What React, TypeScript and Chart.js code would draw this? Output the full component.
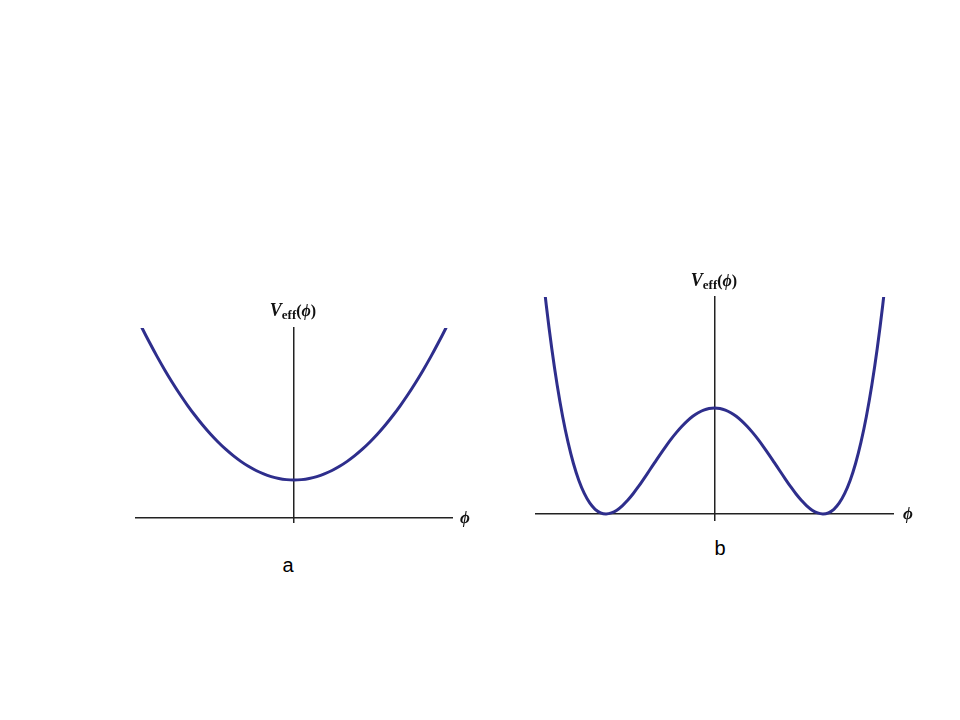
import React, { useEffect, useRef } from "react";
import { Chart, registerables } from "chart.js";

Chart.register(...registerables);

// Panel a: single-well potential
const phiA = [-1.1, -1.05, -1.0, -0.95, -0.9, -0.85, -0.8, -0.75, -0.7, -0.65, -0.6, -0.55, -0.5, -0.45, -0.4, -0.35, -0.3, -0.25, -0.2, -0.15, -0.1, -0.05, 0, 0.05, 0.1, 0.15, 0.2, 0.25, 0.3, 0.35, 0.4, 0.45, 0.5, 0.55, 0.6, 0.65, 0.7, 0.75, 0.8, 0.85, 0.9, 0.95, 1.0, 1.05, 1.1];
const vA = [1.168, 1.082, 1.0, 0.922, 0.848, 0.778, 0.712, 0.65, 0.592, 0.538, 0.488, 0.442, 0.4, 0.362, 0.328, 0.298, 0.272, 0.25, 0.232, 0.218, 0.208, 0.202, 0.2, 0.202, 0.208, 0.218, 0.232, 0.25, 0.272, 0.298, 0.328, 0.362, 0.4, 0.442, 0.488, 0.538, 0.592, 0.65, 0.712, 0.778, 0.848, 0.922, 1.0, 1.082, 1.168];

// Panel b: double-well potential
const phiB = [-1.7, -1.65, -1.6, -1.55, -1.5, -1.45, -1.4, -1.35, -1.3, -1.25, -1.2, -1.15, -1.1, -1.05, -1.0, -0.95, -0.9, -0.85, -0.8, -0.75, -0.7, -0.65, -0.6, -0.55, -0.5, -0.45, -0.4, -0.35, -0.3, -0.25, -0.2, -0.15, -0.1, -0.05, 0, 0.05, 0.1, 0.15, 0.2, 0.25, 0.3, 0.35, 0.4, 0.45, 0.5, 0.55, 0.6, 0.65, 0.7, 0.75, 0.8, 0.85, 0.9, 0.95, 1.0, 1.05, 1.1, 1.15, 1.2, 1.25, 1.3, 1.35, 1.4, 1.45, 1.5, 1.55, 1.6, 1.65, 1.7];
const vB = [3.61, 2.967, 2.434, 1.967, 1.563, 1.216, 0.922, 0.677, 0.476, 0.316, 0.194, 0.104, 0.044, 0.011, 0, 0.01, 0.036, 0.077, 0.13, 0.191, 0.26, 0.334, 0.41, 0.487, 0.563, 0.636, 0.706, 0.77, 0.828, 0.879, 0.922, 0.955, 0.98, 0.995, 1.0, 0.995, 0.98, 0.955, 0.922, 0.879, 0.828, 0.77, 0.706, 0.636, 0.563, 0.487, 0.41, 0.334, 0.26, 0.191, 0.13, 0.077, 0.036, 0.01, 0, 0.011, 0.044, 0.104, 0.194, 0.316, 0.476, 0.677, 0.922, 1.216, 1.563, 1.967, 2.434, 2.967, 3.61];

const panelLabels = ["a", "b"];
const axisName = "ϕ";

const CURVE = "rgb(46,46,140)";

type PanelProps = {
  xs: number[];
  ys: number[];
  xMin: number;
  xMax: number;
  yMin: number;
  yMax: number;
  left: number;
  top: number;
  width: number;
  height: number;
};

function Panel(p: PanelProps) {
  const ref = useRef<HTMLCanvasElement | null>(null);
  useEffect(() => {
    if (!ref.current) return;
    const chart = new Chart(ref.current, {
      type: "line",
      data: {
        datasets: [
          {
            data: p.xs.map((x, i) => ({ x, y: p.ys[i] })),
            borderColor: CURVE,
            borderWidth: 3,
            pointRadius: 0,
            tension: 0.4,
            fill: false,
          },
        ],
      },
      options: {
        responsive: false,
        animation: false,
        layout: { padding: 10 },
        plugins: { legend: { display: false }, tooltip: { enabled: false }, title: { display: false } },
        scales: {
          x: {
            type: "linear",
            min: p.xMin,
            max: p.xMax,
            position: { y: 0 },
            grid: { display: false, drawTicks: false },
            ticks: { display: false },
            border: { display: true, color: "#222", width: 1.5 },
          },
          y: {
            type: "linear",
            min: p.yMin,
            max: p.yMax,
            position: { x: 0 },
            grid: { display: false, drawTicks: false },
            ticks: { display: false },
            border: { display: true, color: "#222", width: 1.5 },
          },
        },
      },
    });
    return () => chart.destroy();
  }, []);
  return (
    <canvas
      ref={ref}
      width={p.width}
      height={p.height}
      style={{ position: "absolute", left: p.left, top: p.top, width: p.width, height: p.height }}
    />
  );
}

const serif = "'Liberation Serif', 'DejaVu Serif', serif";

function VLabel({ cx, cy }: { cx: number; cy: number }) {
  return (
    <div
      style={{
        position: "absolute",
        left: cx - 60,
        top: cy - 12,
        width: 120,
        textAlign: "center",
        fontFamily: serif,
        fontWeight: "bold",
        fontSize: 18,
        lineHeight: "22px",
        color: "#111",
      }}
    >
      <i>V</i>
      <span style={{ fontSize: 13, position: "relative", top: 3 }}>eff</span>
      <span style={{ fontSize: 16 }}>
        (<i>{axisName}</i>)
      </span>
    </div>
  );
}

function PhiLabel({ cx, cy }: { cx: number; cy: number }) {
  return (
    <div
      style={{
        position: "absolute",
        left: cx - 15,
        top: cy - 11,
        width: 30,
        textAlign: "center",
        fontFamily: serif,
        fontWeight: "bold",
        fontStyle: "italic",
        fontSize: 17,
        lineHeight: "22px",
        color: "#111",
      }}
    >
      {axisName}
    </div>
  );
}

function Letter({ cx, cy, text }: { cx: number; cy: number; text: string }) {
  return (
    <div
      style={{
        position: "absolute",
        left: cx - 20,
        top: cy - 12,
        width: 40,
        textAlign: "center",
        fontFamily: "'Liberation Sans', Arial, sans-serif",
        fontSize: 20,
        lineHeight: "24px",
        color: "#000",
      }}
    >
      {text}
    </div>
  );
}

export default function App() {
  return (
    <div
      style={{
        position: "fixed",
        left: 0,
        top: 0,
        width: 960,
        height: 720,
        background: "#fff",
        overflow: "hidden",
      }}
    >
      <Panel xs={phiA} ys={vA} xMin={-1.04} xMax={1.04} yMin={-0.021} yMax={1.0} left={126} top={318} width={336} height={214} />
      <Panel xs={phiB} ys={vB} xMin={-1.645} xMax={1.645} yMin={-0.057} yMax={2.047} left={526} top={287} width={377} height={243} />
      <VLabel cx={293} cy={311} />
      <VLabel cx={714} cy={281} />
      <PhiLabel cx={465} cy={518} />
      <PhiLabel cx={908} cy={514} />
      <Letter cx={288} cy={565} text={panelLabels[0]} />
      <Letter cx={720} cy={548} text={panelLabels[1]} />
    </div>
  );
}
